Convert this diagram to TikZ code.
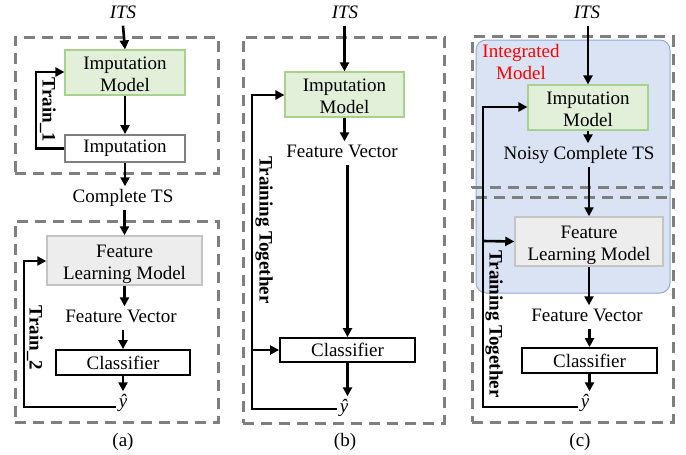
\documentclass[tikz,border=0pt]{standalone}
\usepackage{fontspec}
\setmainfont{Liberation Serif}
\usetikzlibrary{arrows.meta,calc}
\definecolor{dashgray}{HTML}{7F7F7F}
\definecolor{gfill}{HTML}{E2F0D9}
\definecolor{gline}{HTML}{A9D18E}
\definecolor{lfill}{HTML}{EDEDED}
\definecolor{lline}{HTML}{C4C4C4}
\definecolor{bfill}{HTML}{DAE3F3}
\definecolor{bline}{HTML}{8FAADC}
\tikzset{
  txt/.style={font=\fontsize{19}{22}\selectfont, align=center},
  lbl/.style={txt, inner sep=3pt, text height=13pt, text depth=4pt},
  grp/.style={draw=dashgray, line width=3pt, dash pattern=on 11pt off 7pt},
  arr/.style={line width=2.6pt, -{Triangle[length=9pt,width=9pt]}},
  two/.style={text height=38pt, text depth=0pt},
  greenbox/.style={txt, draw=gline, fill=gfill, line width=1.2pt, inner sep=0pt},
  graybox/.style={txt, draw=lline, fill=lfill, line width=1.5pt, inner sep=0pt},
  plainbox/.style={txt, draw=black, fill=white, line width=1.8pt, inner sep=0pt},
  impbox/.style={txt, draw=dashgray, fill=white, line width=1.8pt, inner sep=0pt},
  vlbl/.style={txt, font=\fontsize{19}{22}\selectfont\bfseries, rotate=-90, inner sep=1pt},
}
\begin{document}
\begin{tikzpicture}[x=1pt,y=-1pt]
\useasboundingbox (0,0) rectangle (686,455);

% ================= panel (a) =================
\node[grp, minimum width=203pt, minimum height=136pt, inner sep=0pt] (ga1) at (116.5,105) {};
\node[grp, minimum width=203pt, minimum height=201pt, inner sep=0pt] (ga2) at (116.5,321.5) {};
\node[lbl] (aits) at (123,14) {\textit{ITS}};
\node[greenbox, two, minimum width=120pt, minimum height=45pt] (aim) at (125,72.5) {Imputation\\Model};
\node[impbox, minimum width=120pt, minimum height=27pt] (aimp) at (125,148.5) {Imputation};
\node[lbl] (acts) at (123,198) {Complete TS};
\node[graybox, two, minimum width=155pt, minimum height=49pt] (aflm) at (124.5,260.5) {Feature\\Learning Model};
\node[lbl] (afv) at (121,318) {Feature Vector};
\node[plainbox, minimum width=134pt, minimum height=25pt] (acl) at (123,362.5) {Classifier};
\node[lbl] (ay) at (123,403) {\textit{ŷ}};
\node[txt] (acap) at (123,442) {(a)};

\draw[arr] (aits.south) -- (aim.north);
\draw[arr] (aim.south) -- (aimp.north);
\draw[arr] (aimp.south) -- (acts.north -| aimp.south);
\draw[arr] (acts.south -| aflm.north) -- (aflm.north);
\draw[arr] (aflm.south) -- (afv.north -| aflm.south);
\draw[arr] (afv.south -| acl.north) -- (acl.north);
\draw[arr] (acl.south) -- (ay.north -| acl.south);
\coordinate (at1) at (36,72);
\draw[arr] (aimp.west) -| (at1) -- (at1 -| aim.west);
\node[vlbl] (atr1) at (48,110) {Train\_1};
\coordinate (at2) at (24,261);
\draw[arr] ($(ay.west)+(0,4)$) -| (at2) -- (at2 -| aflm.west);
\node[vlbl] (atr2) at (35,338) {Train\_2};

% ================= panel (b) =================
\node[grp, minimum width=201pt, minimum height=386pt, inner sep=0pt] (gb) at (343.5,230) {};
\node[lbl] (bits) at (345,14) {\textit{ITS}};
\node[greenbox, two, minimum width=119pt, minimum height=45pt] (bim) at (344.5,94.5) {Imputation\\Model};
\node[lbl] (bfv) at (342,153) {Feature Vector};
\node[plainbox, minimum width=135pt, minimum height=24pt] (bcl) at (347.5,350) {Classifier};
\node[lbl] (by) at (344,408) {\textit{ŷ}};
\node[txt] (bcap) at (345,442) {(b)};

\draw[arr] (bits.south -| bim.north) -- (bim.north);
\draw[arr] (bim.south) -- (bfv.north -| bim.south);
\draw[arr] (bfv.south -| bcl.north) -- (bcl.north);
\draw[arr] (bcl.south) -- (by.north -| bcl.south);
\coordinate (bt1) at (252,95);
\coordinate (bt2) at (252,350);
\draw[arr] ($(by.west)+(0,1)$) -| (bt1) -- (bt1 -| bim.west);
\draw[arr] (bt2) -- (bcl.west);
\node[vlbl] (btt) at (264,230) {Training Together};

% ================= panel (c) =================
\node[draw=bline, fill=bfill, line width=1pt, rounded corners=10pt, minimum width=194pt, minimum height=253pt, inner sep=0pt] (cint) at (573,166.5) {};
\node[grp, minimum width=201pt, minimum height=151pt, inner sep=0pt] (gc1) at (572.5,112) {};
\node[grp, minimum width=201pt, minimum height=225pt, inner sep=0pt] (gc2) at (572.5,309.5) {};
\node[txt, text=red, anchor=north] (cintl) at (521,41) {Integrated\\Model};
\node[lbl] (cits) at (587,14) {\textit{ITS}};
\node[greenbox, two, minimum width=120pt, minimum height=45pt] (cim) at (588,107.5) {Imputation\\Model};
\node[lbl] (cnct) at (579,155) {Noisy Complete TS};
\node[graybox, two, minimum width=148pt, minimum height=49pt] (cflm) at (589,241.5) {Feature\\Learning Model};
\node[lbl] (cfv) at (587,317) {Feature Vector};
\node[plainbox, minimum width=135pt, minimum height=25pt] (ccl) at (589.5,360.5) {Classifier};
\node[lbl] (cy) at (585,403) {\textit{ŷ}};
\node[txt] (ccap) at (580,442) {(c)};

\draw[arr] (cits.south -| cim.north) -- (cim.north);
\draw[arr] (cim.south) -- (cnct.north -| cim.south);
\draw[arr] (cnct.south -| cflm.north) -- (cflm.north);
\draw[arr] (cflm.south) -- (cfv.north -| cflm.south);
\draw[arr] (cfv.south -| ccl.north) -- (ccl.north);
\draw[arr] (ccl.south) -- (cy.north -| ccl.south);
\coordinate (ct1) at (483,107);
\coordinate (ct2) at (483,241);
\draw[arr] ($(cy.west)+(0,4)$) -| (ct1) -- (ct1 -| cim.west);
\draw[arr] (ct2) -- (cflm.west);
\node[vlbl] (ctt) at (494,324) {Training Together};
\end{tikzpicture}
\end{document}
